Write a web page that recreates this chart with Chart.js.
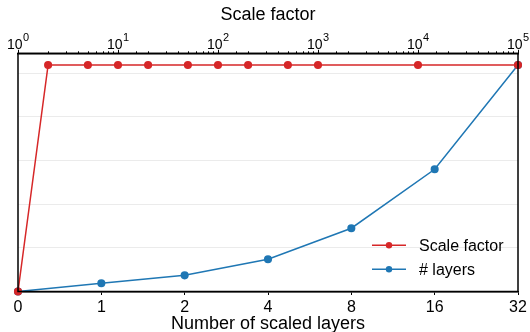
<!DOCTYPE html>
<html>
<head>
<meta charset="utf-8">
<script src="https://cdn.jsdelivr.net/npm/chart.js@4"></script>
<style>
  html, body { margin: 0; padding: 0; background: #fff; }
  #wrap { width: 530px; height: 332px; }
</style>
</head>
<body>
<div id="wrap"><canvas id="scaleChart" width="530" height="332"></canvas></div>
<script>
const layerLabels = ['0', '1', '2', '4', '8', '16', '32'];
const layerValues = [0, 0.19, 0.37, 0.74, 1.45, 2.80, 5.19];
const scaleFactors = [1, 2, 5, 10, 20, 50, 100, 200, 500, 1000, 10000, 100000];
const scaleValues = [0, 5.19, 5.19, 5.19, 5.19, 5.19, 5.19, 5.19, 5.19, 5.19, 5.19, 5.19];

const RED = '#d62728';
const BLUE = '#1f77b4';
const FONT = "'Liberation Sans', Arial, sans-serif";

const isDecade = (v) => {
  const e = Math.log10(v);
  return Math.abs(e - Math.round(e)) < 1e-9;
};

const frame = {
  id: 'frame',
  afterDatasetsDraw(chart) {
    const { ctx, chartArea: a } = chart;
    ctx.save();
    ctx.strokeStyle = '#000';
    ctx.lineWidth = 1.5;
    ctx.strokeRect(a.left, a.top, a.right - a.left, a.bottom - a.top);
    ctx.restore();
  }
};

// log axis on top: short minor ticks and 10^n labels with a raised exponent
const topAxis = {
  id: 'topAxis',
  afterDraw(chart) {
    const { ctx } = chart;
    const s = chart.scales.x2;
    const top = chart.chartArea.top;
    ctx.save();
    ctx.strokeStyle = '#000';
    ctx.lineWidth = 1;
    s.ticks.forEach((t) => {
      const x = Math.round(s.getPixelForValue(t.value)) + 0.5;
      const len = isDecade(t.value) ? 3.5 : 2;
      ctx.beginPath();
      ctx.moveTo(x, top);
      ctx.lineTo(x, top - len);
      ctx.stroke();
    });
    ctx.fillStyle = '#000';
    ctx.textBaseline = 'alphabetic';
    ctx.textAlign = 'left';
    s.ticks.forEach((t) => {
      if (!isDecade(t.value)) return;
      const x = s.getPixelForValue(t.value);
      const exp = String(Math.round(Math.log10(t.value)));
      ctx.font = '14px ' + FONT;
      const w1 = ctx.measureText('10').width;
      ctx.font = '11px ' + FONT;
      const w2 = ctx.measureText(exp).width;
      const x0 = x - (w1 + w2 + 0.5) / 2;
      ctx.font = '14px ' + FONT;
      ctx.fillText('10', x0, top - 4);
      ctx.font = '11px ' + FONT;
      ctx.fillText(exp, x0 + w1 + 0.5, top - 12.3);
    });
    ctx.restore();
  }
};

const insideLegend = {
  id: 'insideLegend',
  afterDraw(chart) {
    const { ctx, chartArea: a } = chart;
    ctx.save();
    ctx.font = '16px ' + FONT;
    ctx.textBaseline = 'middle';
    chart.data.datasets.forEach((ds, i) => {
      const y = a.bottom - 46.2 + i * 24;
      const x0 = a.right - 146;
      ctx.strokeStyle = ds.borderColor;
      ctx.lineWidth = 1.5;
      ctx.beginPath();
      ctx.moveTo(x0, y);
      ctx.lineTo(x0 + 34, y);
      ctx.stroke();
      ctx.fillStyle = ds.borderColor;
      ctx.beginPath();
      ctx.arc(x0 + 17, y, 3.2, 0, Math.PI * 2);
      ctx.fill();
      ctx.fillStyle = '#000';
      ctx.fillText(ds.label, x0 + 47, y + 1);
    });
    ctx.restore();
  }
};

const ctx = document.getElementById('scaleChart').getContext('2d');
new Chart(ctx, {
  type: 'line',
  data: {
    datasets: [
      {
        label: 'Scale factor',
        xAxisID: 'x2',
        data: scaleFactors.map((v, i) => ({ x: v, y: scaleValues[i] })),
        borderColor: RED,
        backgroundColor: RED,
        borderWidth: 1.5,
        pointRadius: 3.3,
        pointHoverRadius: 3.3,
        clip: false
      },
      {
        label: '# layers',
        xAxisID: 'x',
        data: layerValues.map((v, i) => ({ x: i, y: v })),
        borderColor: BLUE,
        backgroundColor: BLUE,
        borderWidth: 1.5,
        pointRadius: 3.3,
        pointHoverRadius: 3.3,
        clip: false
      }
    ]
  },
  options: {
    responsive: false,
    animation: false,
    layout: { padding: { left: 18, right: 12, top: 0, bottom: 0 } },
    plugins: {
      legend: { display: false },
      tooltip: { enabled: false }
    },
    scales: {
      x: {
        type: 'linear',
        position: 'bottom',
        min: 0,
        max: 6,
        afterFit: (s) => { s.height = 40.5; },
        border: { color: '#000', width: 1.5 },
        grid: { drawOnChartArea: false, tickLength: 3.5, color: '#000', tickColor: '#000' },
        ticks: {
          stepSize: 1,
          color: '#000',
          font: { family: FONT, size: 16 },
          padding: 3,
          maxRotation: 0,
          callback: (v) => layerLabels[v]
        },
        title: {
          display: true,
          text: 'Number of scaled layers',
          color: '#000',
          font: { family: FONT, size: 18 },
          padding: { top: 0, bottom: -2.5 }
        }
      },
      x2: {
        type: 'logarithmic',
        position: 'top',
        min: 1,
        max: 100000,
        afterFit: (s) => { s.height = 53.3; },
        border: { color: '#000', width: 1.5 },
        grid: { drawOnChartArea: false, drawTicks: false },
        ticks: {
          display: false,
          autoSkip: false,
          callback: (v) => (isDecade(v) ? '10' : '')
        },
        title: {
          display: true,
          text: 'Scale factor',
          color: '#000',
          font: { family: FONT, size: 18 },
          padding: { top: 4, bottom: 0 }
        }
      },
      y: {
        min: 0,
        max: 5.457,
        afterFit: (s) => { s.width = 0; },
        border: { display: false },
        grid: { color: '#ebebeb', drawTicks: false },
        ticks: { display: false, stepSize: 1 }
      }
    }
  },
  plugins: [frame, topAxis, insideLegend]
});
</script>
</body>
</html>
